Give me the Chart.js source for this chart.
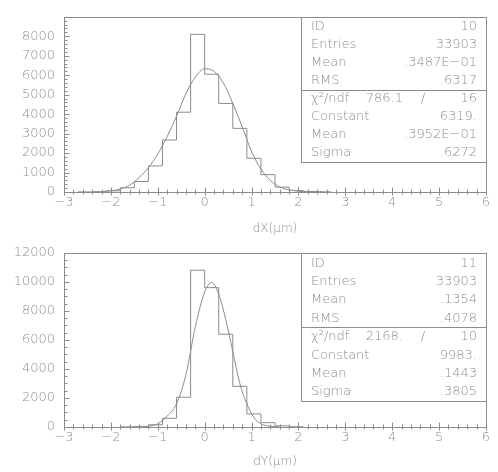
<!DOCTYPE html>
<html>
<head>
<meta charset="utf-8">
<script src="https://cdn.jsdelivr.net/npm/chart.js@4/dist/chart.umd.min.js"></script>
<style>
  html, body { margin: 0; padding: 0; background: #fff; }
  #wrap { position: relative; width: 498px; height: 472px; }
  canvas { position: absolute; left: 0; }
</style>
</head>
<body>
<div id="wrap">
  <canvas id="dxChart" width="498" height="236" style="top:0"></canvas>
  <canvas id="dyChart" width="498" height="236" style="top:236px"></canvas>
</div>
<script>
// histogramme dX : bords bas des classes (largeur 0.3) et contenus
const dxBins = [-2.7, -2.4, -2.1, -1.8, -1.5, -1.2, -0.9, -0.6, -0.3, 0, 0.3, 0.6, 0.9, 1.2, 1.5, 1.8, 2.1, 2.4];
const dxCounts = [5, 20, 60, 220, 540, 1340, 2670, 4100, 8100, 6050, 4550, 3270, 1730, 890, 250, 80, 30, 10];
// courbe d'ajustement
const dxFitX = [-2.2, -2, -1.8, -1.6, -1.4, -1.2, -1, -0.8, -0.6, -0.4, -0.2, 0, 0.2, 0.4, 0.6, 0.8, 1, 1.2, 1.4, 1.6, 1.8, 2, 2.2, 2.5];
const dxFitY = [20, 60, 150, 350, 740, 1250, 1950, 2850, 3900, 5050, 5900, 6330, 6200, 5600, 4550, 3350, 2080, 1180, 600, 260, 110, 40, 15, 3];
const dxYTicks = [0, 1000, 2000, 3000, 4000, 5000, 6000, 7000, 8000];
const dxStats = [['ID', '10'], ['Entries', '33903'], ['Mean', '.3487E\u221201'], ['RMS', '.6317']];
const dxFit = [['Constant', '6319.'], ['Mean', '.3952E\u221201'], ['Sigma', '.6272']];
const dxChi = ['786.1', '16'];

// histogramme dY
const dyBins = [-1.8, -1.5, -1.2, -0.9, -0.6, -0.3, 0, 0.3, 0.6, 0.9, 1.2, 1.5, 1.8];
const dyCounts = [10, 40, 150, 600, 2050, 10800, 9600, 6390, 2800, 900, 300, 80, 20];
const dyFitX = [-1.2, -1, -0.8, -0.6, -0.4, -0.2, 0, 0.15, 0.3, 0.45, 0.6, 0.75, 0.9, 1.05, 1.2, 1.4, 1.6];
const dyFitY = [40, 220, 750, 1600, 3600, 6900, 9300, 9950, 9150, 7400, 5200, 3000, 1600, 650, 220, 50, 10];
const dyYTicks = [0, 2000, 4000, 6000, 8000, 10000, 12000];
const dyStats = [['ID', '11'], ['Entries', '33903'], ['Mean', '.1354'], ['RMS', '.4078']];
const dyFit = [['Constant', '9983.'], ['Mean', '.1443'], ['Sigma', '.3805']];
const dyChi = ['2168.', '10'];

const xTicks = [-3, -2, -1, 0, 1, 2, 3, 4, 5, 6];
const xLabels = ['\u22123', '\u22122', '\u22121', '0', '1', '2', '3', '4', '5', '6'];
const binWidth = 0.3;

const lineColor = '#8c8c8c';
const textColor = '#8e8e8e';
const font = '"DejaVu Sans", sans-serif';

function stepPoints(bins, counts) {
    const pts = [{ x: bins[0], y: 0 }];
    bins.forEach((b, i) => pts.push({ x: b, y: counts[i] }));
    pts.push({ x: bins[bins.length - 1] + binWidth, y: counts[counts.length - 1] });
    return pts;
}

// cadre, graduations vers l'intérieur et boîte de statistiques
const pawPlugin = {
    id: 'paw',
    afterDraw(chart, args, opts) {
        const c = chart.ctx;
        const a = chart.chartArea;
        const xs = chart.scales.x, ys = chart.scales.y;
        c.save();
        c.strokeStyle = lineColor;
        c.lineWidth = 1;
        c.strokeRect(Math.round(a.left) + 0.5, Math.round(a.top) + 0.5,
            Math.round(a.right - a.left), Math.round(a.bottom - a.top));
        c.beginPath();
        const yb = Math.round(a.bottom) + 0.5;
        for (let v = -3; v <= 6.001; v += 0.2) {
            const px = Math.round(xs.getPixelForValue(v)) + 0.5;
            const major = Math.abs(v - Math.round(v)) < 0.01;
            c.moveTo(px, yb - (major ? 5 : 3));
            c.lineTo(px, yb + (major ? 3 : 2));
        }
        const xl = Math.round(a.left) + 0.5;
        for (let v = 0; v <= ys.max; v += opts.minor) {
            const py = Math.round(ys.getPixelForValue(v)) + 0.5;
            const major = v % opts.major === 0;
            c.moveTo(xl, py);
            c.lineTo(xl + (major ? 5 : 3), py);
        }
        c.stroke();

        // boîte
        const bx = 301, bt = Math.round(a.top) + 0.5, rh = opts.rowH;
        const br = Math.round(a.right) + 0.5;
        c.beginPath();
        c.moveTo(bx + 0.5, bt);
        c.lineTo(bx + 0.5, Math.round(bt + rh * 8) + 0.5);
        c.lineTo(br, Math.round(bt + rh * 8) + 0.5);
        c.moveTo(bx + 0.5, Math.round(bt + rh * 4) + 0.5);
        c.lineTo(br, Math.round(bt + rh * 4) + 0.5);
        c.stroke();

        c.fillStyle = textColor;
        c.font = '200 13px ' + font;
        c.textBaseline = 'middle';
        const rows = opts.stats.concat([['\u03c7\u00b2/ndf', '']], opts.fit);
        rows.forEach((r, i) => {
            const y = bt + rh / 2 + 0.5 + rh * i;
            c.textAlign = 'left';
            c.fillText(r[0], bx + 10, y);
            c.textAlign = 'right';
            if (i === 4) {
                c.fillText(opts.chi[0], 403, y);
                c.fillText(opts.chi[1], a.right - 9, y);
                c.textAlign = 'center';
                c.fillText('/', 423, y);
            } else {
                c.fillText(r[1], a.right - 9, y);
            }
        });
        c.restore();
    }
};

function makeChart(id, bins, counts, fitX, fitY, yTicks, yMax, title, stats, fit, chi, minor, major, padTop, xHeight, titlePad, rowH) {
    const ctx = document.getElementById(id).getContext('2d');
    return new Chart(ctx, {
        type: 'line',
        data: {
            datasets: [{
                data: stepPoints(bins, counts),
                stepped: 'before',
                borderColor: lineColor,
                borderWidth: 1,
                pointRadius: 0,
                fill: false
            }, {
                data: fitX.map((x, i) => ({ x: x, y: fitY[i] })),
                cubicInterpolationMode: 'monotone',
                borderColor: lineColor,
                borderWidth: 1,
                pointRadius: 0,
                fill: false
            }]
        },
        options: {
            responsive: false,
            animation: false,
            devicePixelRatio: 1,
            layout: { padding: { top: padTop, right: 12, left: 0, bottom: 0 } },
            plugins: {
                legend: { display: false },
                tooltip: { enabled: false },
                paw: { stats: stats, fit: fit, chi: chi, minor: minor, major: major, rowH: rowH }
            },
            scales: {
                x: {
                    type: 'linear',
                    min: -3,
                    max: 6,
                    afterBuildTicks: s => { s.ticks = xTicks.map(v => ({ value: v })); },
                    afterFit: s => { s.height = xHeight; },
                    grid: { display: false, drawTicks: false },
                    border: { display: false },
                    ticks: {
                        padding: 3,
                        color: textColor,
                        font: { family: font, size: 13, weight: 200 },
                        maxRotation: 0,
                        callback: (v, i) => xLabels[i]
                    },
                    title: {
                        display: true,
                        text: title,
                        color: textColor,
                        font: { family: font, size: 12, weight: 200 },
                        padding: { top: 0, bottom: titlePad }
                    }
                },
                y: {
                    min: 0,
                    max: yMax,
                    afterBuildTicks: s => { s.ticks = yTicks.map(v => ({ value: v })); },
                    afterFit: s => { s.width = 64; },
                    grid: { display: false, drawTicks: false },
                    border: { display: false },
                    ticks: {
                        padding: 9,
                        color: textColor,
                        font: { family: font, size: 13, weight: 200 },
                        callback: v => String(v)
                    }
                }
            }
        },
        plugins: [pawPlugin]
    });
}

makeChart('dxChart', dxBins, dxCounts, dxFitX, dxFitY, dxYTicks, 9000, 'dX(\u03bcm)',
    dxStats, dxFit, dxChi, 200, 1000, 11, 44, 0, 18);
makeChart('dyChart', dyBins, dyCounts, dyFitX, dyFitY, dyYTicks, 12000, 'dY(\u03bcm)',
    dyStats, dyFit, dyChi, 500, 2000, 9, 45, 3, 18.4);
</script>
</body>
</html>
